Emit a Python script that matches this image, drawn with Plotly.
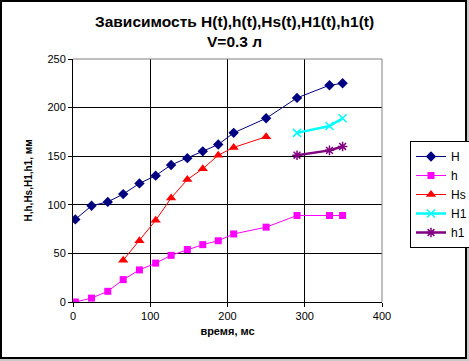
import plotly.graph_objects as go

t_H = [3, 24, 45, 65, 86, 107, 127, 148, 168, 188, 208, 250, 290, 332, 349]
H = [85, 99, 103, 111, 122, 130, 141, 148, 155, 162, 174, 189, 210, 223, 225]

t_h = [3, 24, 45, 65, 86, 107, 127, 148, 168, 188, 208, 250, 290, 332, 349]
h = [0, 4, 11, 23, 33, 40, 48, 54, 59, 63, 70, 77, 89, 89, 89]

t_Hs = [65, 86, 107, 127, 148, 168, 188, 208, 250]
Hs = [43, 63, 84, 107, 126, 137, 151, 159, 170]

t_H1 = [290, 332, 349]
H1 = [174, 181, 189]

t_h1 = [290, 332, 349]
h1 = [151, 156, 160]

x_ticks = [0, 100, 200, 300, 400]
y_ticks = [0, 50, 100, 150, 200, 250]

title_text = "Зависимость H(t),h(t),Hs(t),H1(t),h1(t)<br>V=0.3 л"
x_title = "время, мс"
y_title = "H,h,Hs,H1,h1, мм"

FONT = "Liberation Sans, Arial, sans-serif"
W, Hgt = 469, 361
L, R, T, B = 73, 87, 59, 59
pw, ph = W - L - R, Hgt - T - B

def px2x(px):
    return (px - L) / pw

def py2y(py):
    return (Hgt - B - py) / ph

fig = go.Figure()
fig.add_trace(go.Scatter(x=t_H, y=H, name="H", mode="lines+markers",
                         line=dict(color="#000080", width=1),
                         marker=dict(symbol="diamond", size=8, color="#000080")))
fig.add_trace(go.Scatter(x=t_h, y=h, name="h", mode="lines+markers",
                         line=dict(color="#ff00ff", width=1),
                         marker=dict(symbol="square", size=7, color="#ff00ff")))
fig.add_trace(go.Scatter(x=t_Hs, y=Hs, name="Hs", mode="lines+markers",
                         line=dict(color="#ff0000", width=1),
                         marker=dict(symbol="triangle-up", size=9, color="#ff0000")))
fig.add_trace(go.Scatter(x=t_H1, y=H1, name="H1", mode="lines+markers",
                         line=dict(color="#00ffff", width=2.5),
                         marker=dict(symbol="x-thin", size=8,
                                     line=dict(color="#00ffff", width=1.5))))
fig.add_trace(go.Scatter(x=t_h1, y=h1, name="h1", mode="lines+markers",
                         line=dict(color="#800080", width=2.5),
                         marker=dict(symbol="asterisk", size=8,
                                     line=dict(color="#800080", width=1.5))))

shapes = [
    dict(type="rect", xref="paper", yref="paper",
         x0=px2x(1), x1=px2x(466), y0=py2y(358), y1=py2y(1),
         line=dict(color="black", width=2), fillcolor="white", layer="below"),
    dict(type="line", xref="paper", yref="paper", x0=0, x1=1, y0=1, y1=1,
         line=dict(color="#808080", width=1), layer="above"),
    dict(type="line", xref="paper", yref="paper", x0=1, x1=1, y0=0, y1=1,
         line=dict(color="#808080", width=1), layer="above"),
]

fig.update_layout(
    width=W, height=Hgt,
    margin=dict(l=L, r=R, t=T, b=B, pad=0, autoexpand=False),
    paper_bgcolor="#c8c8c8",
    plot_bgcolor="white",
    font=dict(family=FONT, size=11, color="black"),
    shapes=shapes,
    annotations=[dict(text=title_text, xref="paper", yref="paper",
                      x=px2x(234), y=py2y(31.5), xanchor="center", yanchor="middle",
                      showarrow=False, align="center",
                      font=dict(family=FONT, size=15.5, color="black", weight="bold"))],
    showlegend=True,
    legend=dict(x=px2x(410), y=py2y(141), xanchor="left", yanchor="top",
                bordercolor="black", borderwidth=1, bgcolor="white",
                font=dict(family=FONT, size=12, color="black"),
                itemwidth=30, tracegroupgap=0),
)
fig.update_xaxes(range=[0, 400], tickvals=x_ticks, showgrid=True,
                 gridcolor="black", gridwidth=1, showline=True, linecolor="black",
                 linewidth=1, ticks="outside", ticklen=4, tickcolor="black",
                 zeroline=False, tickfont=dict(size=11),
                 title=dict(text=x_title, standoff=6,
                            font=dict(size=11, weight="bold")))
fig.update_yaxes(range=[0, 250], tickvals=y_ticks, showgrid=True,
                 gridcolor="black", gridwidth=1, showline=True, linecolor="black",
                 linewidth=1, ticks="outside", ticklen=4, tickcolor="black",
                 zeroline=False, tickfont=dict(size=11),
                 title=dict(text=y_title, standoff=12,
                            font=dict(size=10, weight="bold")))

fig.write_html("out.html", config={"displayModeBar": False},
               post_script="document.body.style.margin='0';document.body.style.padding='0';")
